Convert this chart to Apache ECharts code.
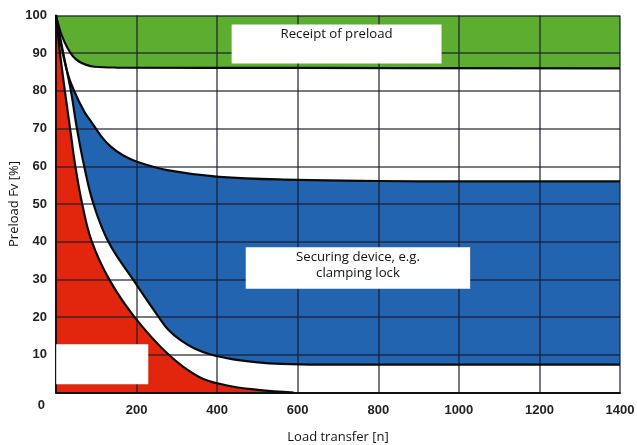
<!DOCTYPE html>
<html>
<head>
<meta charset="utf-8">
<script src="https://cdn.jsdelivr.net/npm/echarts@6/dist/echarts.min.js"></script>
<style>
html,body{margin:0;padding:0;background:#fff;}
#chart{width:637px;height:445px;}
</style>
</head>
<body>
<div id="chart"></div>
<script>
// ---- data (x = load transfer [n], y = preload Fv [%]) ----
var greenCurve = [[0,100],[6,97.5],[14,94.8],[29,91.3],[42,89.2],[57,87.8],[75,86.9],[95,86.4],[150,86.2],[600,86.1],[1400,86]];
var upperBlue = [[0,100],[10,93.5],[29,84.6],[45,80],[70,74.5],[85,72.2],[99,70],[115,67.6],[136,65.2],[165,63],[201,61.2],[276,59],[405,57.2],[600,56.4],[800,56.1],[1000,56],[1400,56]];
var lowerBlue = [[0,100],[18,90],[37,80],[52,70],[70,60],[93,50],[130,40],[191,30],[255,20],[280,16.5],[310,13.8],[345,11.6],[386,10],[440,8.8],[501,8],[560,7.6],[650,7.4],[800,7.4],[1400,7.4]];
var redCurve = [[0,100],[10,90],[22,80],[35,70],[48,60],[65,50],[89,40],[132,30],[195,20],[280,10],[354,4.2],[419,2],[501,0.7],[590,0]];
var xTicks = [0,200,400,600,800,1000,1200,1400];
var yTicks = [0,10,20,30,40,50,60,70,80,90,100];
var xName = 'Load transfer [n]';
var yName = 'Preload Fv [%]';
var receiptText = 'Receipt of preload';
var securingText = 'Securing device, e.g.\nclamping lock';

var GREEN = '#5cad30', BLUE = '#2264b0', RED = '#e2260e';
var gridColor = 'rgba(25,25,45,0.78)';
var labelFont = {fontFamily:'Liberation Sans', fontWeight:'bold', fontSize:13, color:'#222'};

function fill(data, color, origin){
  return {type:'line', data:data, smooth:0.4, symbol:'none', z:1,
    lineStyle:{width:0}, areaStyle:{color:color, opacity:1, origin:origin||'start'}, silent:true};
}
function edge(data){
  return {type:'line', data:data, smooth:0.4, symbol:'none', z:3,
    lineStyle:{width:2.2, color:'#0a0a0a'}, silent:true};
}
var boxLabel = {fontFamily:'Open Sans', fontSize:13.2, color:'#111', position:'insideTop', distance:2, lineHeight:16};

var chart = echarts.init(document.getElementById('chart'), null, {renderer:'canvas'});
chart.setOption({
  animation:false,
  backgroundColor:'#fff',
  grid:{left:56, right:17, top:15.5, bottom:52.5, show:false, containLabel:false, outerBoundsMode:'none'},
  xAxis:{type:'value', min:xTicks[0], max:xTicks[xTicks.length-1], interval:200, z:2,
    name:xName, nameLocation:'middle', nameGap:38, nameMoveOverlap:false,
    nameTextStyle:{fontFamily:'Open Sans', fontSize:13, color:'#111'},
    axisLine:{show:true, lineStyle:{color:'#111', width:2}},
    axisTick:{show:false},
    axisLabel:Object.assign({margin:11, formatter:function(v){return v===0?'':String(v);}}, labelFont),
    splitLine:{show:true, showMinLine:true, showMaxLine:true, lineStyle:{color:gridColor, width:1.5}}
  },
  yAxis:{type:'value', min:yTicks[0], max:yTicks[yTicks.length-1], interval:10, z:2,
    name:yName, nameLocation:'middle', nameGap:35, nameMoveOverlap:false,
    nameTextStyle:{fontFamily:'Open Sans', fontSize:13, color:'#111'},
    axisLine:{show:true, lineStyle:{color:'#111', width:2}},
    axisTick:{show:false},
    axisLabel:Object.assign({margin:9, formatter:function(v){return v===0?'{z|0}':String(v);},
      rich:{z:Object.assign({padding:[26,2,0,0]}, labelFont)}}, labelFont),
    splitLine:{show:true, showMinLine:true, showMaxLine:true, lineStyle:{color:gridColor, width:1.5}}
  },
  series:[
    fill(upperBlue, BLUE),
    fill(lowerBlue, '#ffffff'),
    fill(redCurve, RED),
    fill(greenCurve, GREEN, 'end'),
    edge(greenCurve),
    edge(upperBlue),
    edge(lowerBlue),
    edge(redCurve),
    {type:'line', data:[[0,0]], z:5, symbol:'none', lineStyle:{width:0}, silent:true,
      markArea:{silent:true, z:5, itemStyle:{color:'#ffffff', opacity:1, borderWidth:0}, label:boxLabel,
        data:[
          [{xAxis:436, yAxis:97.6, name:receiptText}, {xAxis:957, yAxis:87.3}],
          [{xAxis:471, yAxis:38.5, name:securingText}, {xAxis:1028, yAxis:27.5}],
          [{xAxis:0.5, yAxis:12.8, name:''}, {xAxis:229, yAxis:2.2}]
        ]}
    }
  ]
});
</script>
</body>
</html>
